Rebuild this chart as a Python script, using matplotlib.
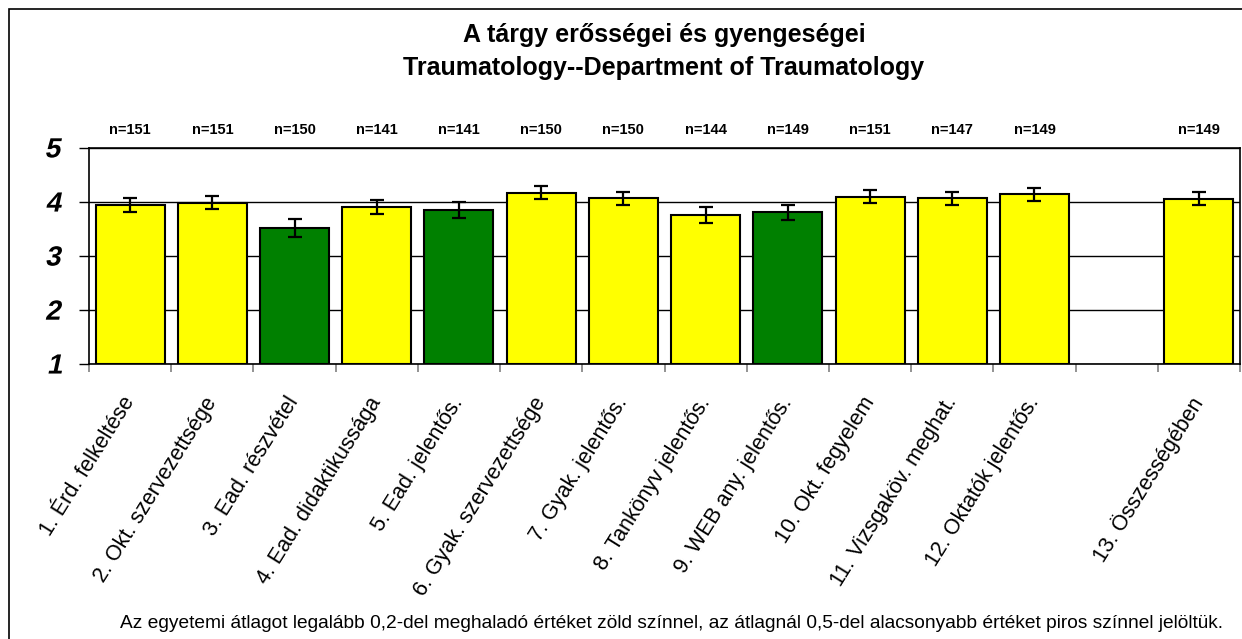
import numpy as np
import matplotlib
matplotlib.use('Agg')
import matplotlib.pyplot as plt
from matplotlib.font_manager import FontProperties
from matplotlib.patches import Rectangle, PathPatch
from matplotlib.textpath import TextPath
from matplotlib.transforms import blended_transform_factory, Affine2D, IdentityTransform

plt.rcParams['font.family'] = ['Liberation Sans', 'DejaVu Sans']

# ---- data ----
labels = ["1. Érd. felkeltése", "2. Okt. szervezettsége", "3. Ead. részvétel",
          "4. Ead. didaktikussága", "5. Ead. jelentős.", "6. Gyak. szervezettsége",
          "7. Gyak. jelentős.", "8. Tankönyv jelentős.", "9. WEB any. jelentős.",
          "10. Okt. fegyelem", "11. Vizsgaköv. meghat.", "12. Oktatók jelentős.",
          "", "13. Összességében"]
means = [3.94, 3.99, 3.52, 3.90, 3.85, 4.17, 4.07, 3.76, 3.81, 4.10, 4.07, 4.14, np.nan, 4.06]
errs = [0.13, 0.12, 0.17, 0.13, 0.15, 0.12, 0.12, 0.15, 0.14, 0.115, 0.12, 0.12, np.nan, 0.12]
counts = ["n=151", "n=151", "n=150", "n=141", "n=141", "n=150", "n=150", "n=144",
          "n=149", "n=151", "n=147", "n=149", "", "n=149"]
yticks = [1, 2, 3, 4, 5]
green_items = [2, 4, 8]

YELLOW = '#ffff00'
GREEN = '#008000'
DPI = 100

fig = plt.figure(figsize=(12.42, 6.39), dpi=DPI)
ax = fig.add_axes([89 / 1242, 1 - 364 / 639, (1240 - 89) / 1242, (364 - 148) / 639])

x = np.arange(len(labels))
vals = np.array(means)
colors = [GREEN if i in green_items else YELLOW for i in range(len(labels))]

ax.bar(x, vals - 1, bottom=1, width=0.84, color=colors, edgecolor='black',
       linewidth=1.5, zorder=3)
ax.errorbar(x, vals, yerr=errs, fmt='none', ecolor='black', elinewidth=1.6,
            capsize=5, capthick=1.6, zorder=4)

ax.set_xlim(-0.5, len(labels) - 0.5)
ax.set_ylim(1, 5)
ax.set_yticks(yticks)
ax.set_yticklabels([])
ax.tick_params(axis='y', length=7, width=1, direction='out', color='black')
ax.yaxis.grid(True, color='black', linewidth=1)
ax.set_axisbelow(True)

# y labels: bold glyphs slanted by hand (no bold italic face installed)
yprop = FontProperties(family='Liberation Sans', weight='bold', size=20)
for v in yticks:
    p = TextPath((0, 0), str(v), prop=yprop)
    p = Affine2D().skew_deg(12, 0).scale(DPI / 72).transform_path(p)
    ext = p.get_extents()
    ydisp = ax.transData.transform((0, v))[1]
    p = Affine2D().translate(62 - ext.x1, ydisp - (ext.y0 + ext.y1) / 2).transform_path(p)
    fig.add_artist(PathPatch(p, transform=IdentityTransform(),
                             facecolor='black', edgecolor='none'))

ax.set_xticks(x)
ax.set_xticklabels(labels, rotation=58, ha='right', va='center',
                   rotation_mode='anchor', fontsize=15.5)
ax.tick_params(axis='x', which='major', length=0, pad=25)
ax.set_xticks(np.arange(len(labels) + 1) - 0.5, minor=True)
ax.tick_params(axis='x', which='minor', length=6, width=1.2, color='#808080', direction='out')

for s in ax.spines.values():
    s.set_color('black')
    s.set_linewidth(1.2)

# n labels above the plot
trans = blended_transform_factory(ax.transData, ax.transAxes)
for xi, c in zip(x, counts):
    ax.text(xi, 1.083, c, transform=trans, ha='center', va='center',
            fontsize=10.5, fontweight='bold')

# title
fig.text(664 / 1242, 1 - 35 / 639, "A tárgy erősségei és gyengeségei",
         ha='center', va='center', fontsize=18, fontweight='bold')
fig.text(664 / 1242, 1 - 68 / 639, "Traumatology--Department of Traumatology",
         ha='center', va='center', fontsize=18, fontweight='bold')

# footnote
fig.text(671 / 1242, 1 - 623 / 639,
         "Az egyetemi átlagot legalább 0,2-del meghaladó értéket zöld színnel, "
         "az átlagnál 0,5-del alacsonyabb értéket piros színnel jelöltük.",
         ha='center', va='center', fontsize=13.8)

# outer frame
fig.patches.append(Rectangle((9 / 1242, -0.1), 1.2, 1 - 9 / 639 + 0.1,
                             transform=fig.transFigure, fill=False,
                             edgecolor='black', linewidth=1.2))

fig.savefig('out.png', dpi=DPI)
